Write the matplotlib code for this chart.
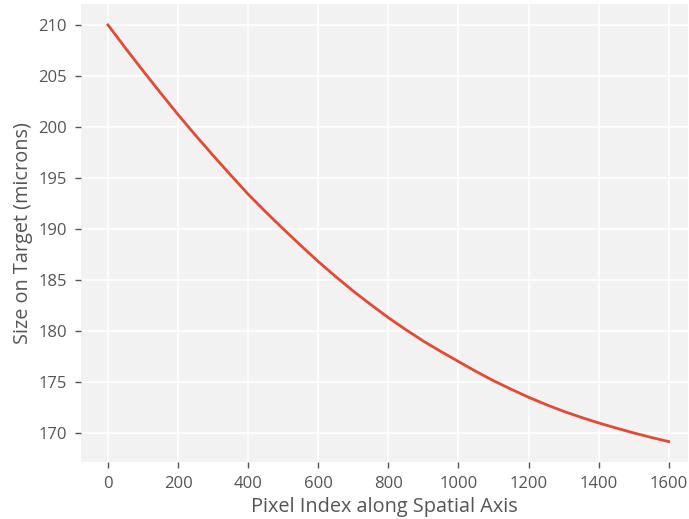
import matplotlib
matplotlib.use("Agg")
import matplotlib.pyplot as plt

pixel_index = [0, 50, 100, 150, 200, 250, 300, 350, 400, 450, 500, 550,
               600, 650, 700, 750, 800, 850, 900, 950, 1000, 1050, 1100,
               1150, 1200, 1250, 1300, 1350, 1400, 1450, 1500, 1550, 1600]
size_microns = [210.0, 207.72, 205.5, 203.33, 201.2, 199.17, 197.2, 195.28,
                193.4, 191.67, 190.0, 188.38, 186.8, 185.32, 183.9, 182.58,
                181.3, 180.12, 179.0, 177.98, 177.0, 176.03, 175.12, 174.29,
                173.5, 172.78, 172.12, 171.53, 170.98, 170.48, 170.0, 169.56, 169.15]
x_ticks = [0, 200, 400, 600, 800, 1000, 1200, 1400, 1600]
y_ticks = [170, 175, 180, 185, 190, 195, 200, 205, 210]

plt.rcParams['font.family'] = ['Open Sans', 'DejaVu Sans']
text_color = '#555555'

fig = plt.figure(figsize=(6.89, 5.19), dpi=100)
ax = fig.add_axes([81/689, 1-462/519, (688-81)/689, (462-4)/519])
ax.set_facecolor('#f2f2f2')
ax.plot(pixel_index, size_microns, color='#E24A33', linewidth=2)
ax.set_xlim(-77, 1655)
ax.set_ylim(167.15, 212.05)
ax.set_xticks(x_ticks)
ax.set_yticks(y_ticks)
ax.grid(True, color='white', linewidth=1.2)
ax.set_axisbelow(True)
for s in ax.spines.values():
    s.set_visible(False)
ax.tick_params(axis='both', colors='#555555', labelcolor=text_color,
               labelsize=12, length=4, width=1, direction='out', pad=6)
ax.set_xlabel('Pixel Index along Spatial Axis', fontsize=14.3, color=text_color, labelpad=4)
ax.set_ylabel('Size on Target (microns)', fontsize=14.3, color=text_color, labelpad=4)

fig.savefig('out.png', dpi=100, facecolor='white')
